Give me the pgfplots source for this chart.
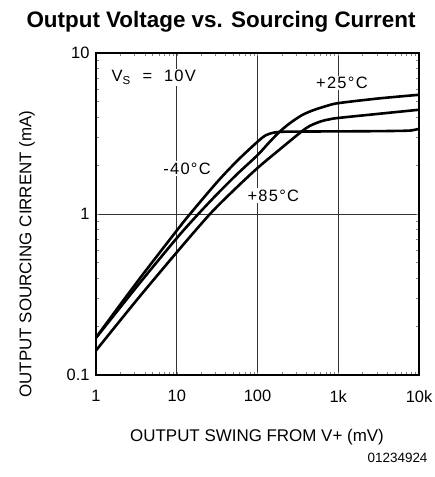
\documentclass[border=0pt]{standalone}
\usepackage{fontspec}
\setmainfont{Liberation Sans}
\newfontfamily\lblfont[LetterSpace=8]{Liberation Sans}
\usepackage{pgfplots}
\pgfplotsset{compat=1.18}
\begin{document}
\begin{tikzpicture}[x=1bp,y=1bp]
\path[use as bounding box] (0,0) rectangle (435,477);
\begin{axis}[
  at={(96bp,102bp)}, anchor=south west,
  scale only axis, width=323bp, height=322bp,
  xmode=log, ymode=log,
  xmin=1, xmax=10000, ymin=0.1, ymax=10,
  xtick={1,10,100,1000,10000}, xticklabels={1,10,100,1k,10k},
  ytick={0.1,1,10}, yticklabels={0.1,1,10},
  minor xtick={}, minor ytick={},
  major tick length=0,
  xmajorgrids, ymajorgrids,
  grid style={line width=0.8bp, black!80},
  axis line style={line width=1.3bp},
  tick label style={font=\fontsize{16.5}{18}\selectfont},
  /pgf/number format/assume math mode=true,
  xticklabel style={yshift=-12bp},
  yticklabel style={xshift=-3bp},
  clip=false,
]
% -40 C
\addplot[line width=2.6bp, smooth, tension=0.5] coordinates {
(1,0.171) (3.16,0.373) (10,0.789) (14.6,1.0) (31.6,1.578) (56.2,2.143) (100,2.81) (126,3.08) (158,3.2) (200,3.24) (300,3.25) (1000,3.26) (3000,3.27) (7000,3.29) (8500,3.32) (10000,3.38)
};
% +25 C
\addplot[line width=2.6bp, smooth, tension=0.5] coordinates {
(1,0.170) (3.16,0.351) (10,0.708) (18.5,1.0) (31.6,1.329) (56.2,1.773) (100,2.32) (141,2.80) (189,3.25) (251,3.66) (355,4.11) (490,4.41) (708,4.68) (1000,4.88) (3162,5.22) (10000,5.50)
};
% +85 C
\addplot[line width=2.6bp, smooth, tension=0.5] coordinates {
(1,0.142) (3.16,0.290) (10,0.578) (25.8,1.0) (50.1,1.395) (100,1.93) (200,2.58) (351,3.25) (447,3.53) (617,3.77) (794,3.88) (1000,3.95) (3162,4.19) (10000,4.44)
};
\node[fill=white, inner sep=1.5bp, font=\lblfont\fontsize{16.5}{18}\selectfont] at (axis cs:5.2,7.05) {V\textsubscript{S}\ \ =\ \ 10V};
\node[fill=white, inner sep=1.5bp, font=\lblfont\fontsize{16.5}{18}\selectfont] at (axis cs:1110,6.5) {+25\textdegree C};
\node[fill=white, inner sep=1.5bp, font=\lblfont\fontsize{16.5}{18}\selectfont] at (axis cs:13.4,1.91) {-40\textdegree C};
\node[fill=white, inner sep=1.5bp, font=\lblfont\fontsize{16.5}{18}\selectfont] at (axis cs:157,1.30) {+85\textdegree C};
\end{axis}
\node[font=\bfseries\fontsize{22.5}{25}\selectfont] at (221,455) {Output Voltage vs. Sourcing Current};
\node[font=\fontsize{17}{19}\selectfont] at (257,40) {OUTPUT SWING FROM V+ (mV)};
\node[font=\fontsize{17}{19}\selectfont, rotate=90] at (27,223) {OUTPUT SOURCING CIRRENT (mA)};
\node[font=\fontsize{13.5}{15}\selectfont, anchor=east] at (431,19) {01234924};
\end{tikzpicture}
\end{document}
